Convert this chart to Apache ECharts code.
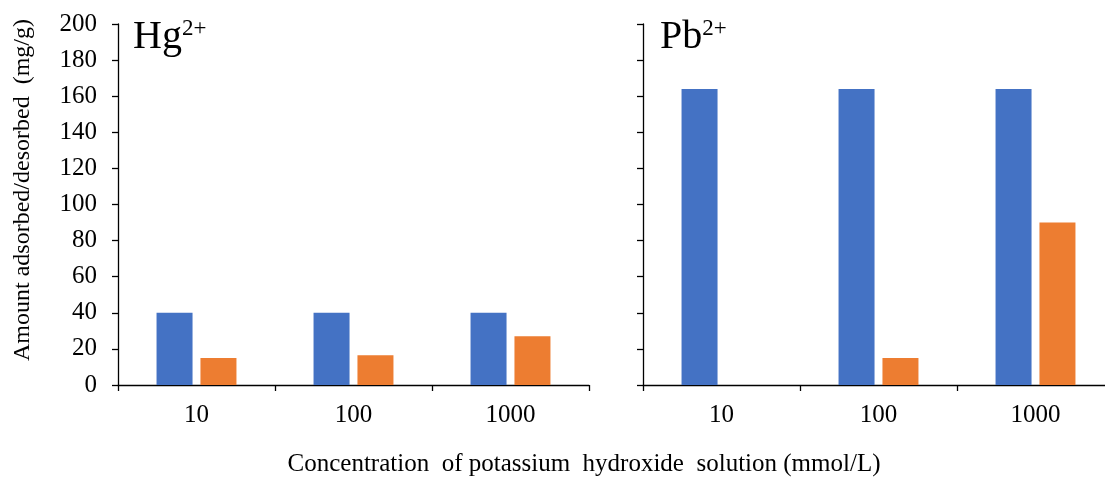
<!DOCTYPE html>
<html>
<head>
<meta charset="utf-8">
<script src="https://cdn.jsdelivr.net/npm/echarts@6/dist/echarts.min.js"></script>
<style>html,body{margin:0;padding:0;background:#fff;overflow:hidden}#c{width:1120px;height:477px}</style>
</head>
<body>
<div id="c"></div>
<script>
var categories = ['10', '100', '1000'];
var hgAdsorbed = [40, 40, 40];
var hgDesorbed = [15, 16.5, 27];
var pbAdsorbed = [164, 164, 164];
var pbDesorbed = [0, 15, 90];
var yTicks = { min: 0, max: 200, interval: 20 };

var FONT = 'Liberation Serif';
var BLUE = '#4472C4', ORANGE = '#ED7D31';
var chart = echarts.init(document.getElementById('c'), null, { renderer: 'canvas' });

function xAxis(gi) {
  return {
    type: 'category', gridIndex: gi, data: categories, boundaryGap: true,
    axisLine: { lineStyle: { color: '#000', width: 1.3 } },
    axisTick: { show: true, interval: 0, length: 6, lineStyle: { color: '#000', width: 1.3 } },
    axisLabel: { fontFamily: FONT, fontSize: 25, color: '#000', margin: 18 }
  };
}
function yAxis(gi, showLabel) {
  return {
    type: 'value', gridIndex: gi, min: yTicks.min, max: yTicks.max, interval: yTicks.interval,
    splitLine: { show: false },
    axisLine: { show: true, lineStyle: { color: '#000', width: 1.3 } },
    axisTick: { show: true, length: 6, lineStyle: { color: '#000', width: 1.3 } },
    axisLabel: { show: showLabel, fontFamily: FONT, fontSize: 25, color: '#000', margin: 21 }
  };
}
function bar(xi, data, color) {
  return {
    type: 'bar', xAxisIndex: xi, yAxisIndex: xi, data: data, barWidth: 36, barGap: '22%',
    itemStyle: { color: color }, silent: true
  };
}
function ionLabel(x, base) {
  return { type: 'text', left: x, top: 17, style: {
    text: '{a|' + base + '}{b|2+}', fontFamily: FONT,
    rich: { a: { fontFamily: FONT, fontSize: 40, fill: '#000' },
            b: { fontFamily: FONT, fontSize: 23, fill: '#000', verticalAlign: 'top', padding: [0, 0, 14, 0] } }
  } };
}

chart.setOption({
  animation: false,
  grid: [
    { left: 118, width: 471, top: 24, bottom: 92 },
    { left: 643, width: 471, top: 24, bottom: 92 }
  ],
  xAxis: [xAxis(0), xAxis(1)],
  yAxis: [yAxis(0, true), yAxis(1, false)],
  series: [
    bar(0, hgAdsorbed, BLUE), bar(0, hgDesorbed, ORANGE),
    bar(1, pbAdsorbed, BLUE), bar(1, pbDesorbed, ORANGE)
  ],
  graphic: [
    ionLabel(133, 'Hg'),
    ionLabel(660, 'Pb'),
    { type: 'text', x: 23, y: 190, rotation: Math.PI / 2, style: {
      text: 'Amount adsorbed/desorbed  (mg/g)', fontFamily: FONT, fontSize: 24, fill: '#000',
      align: 'center', verticalAlign: 'middle'
    } },
    { type: 'text', x: 584, y: 464, style: {
      text: 'Concentration  of potassium  hydroxide  solution (mmol/L)', fontFamily: FONT, fontSize: 25, fill: '#000',
      align: 'center', verticalAlign: 'middle'
    } }
  ]
});
</script>
</body>
</html>
